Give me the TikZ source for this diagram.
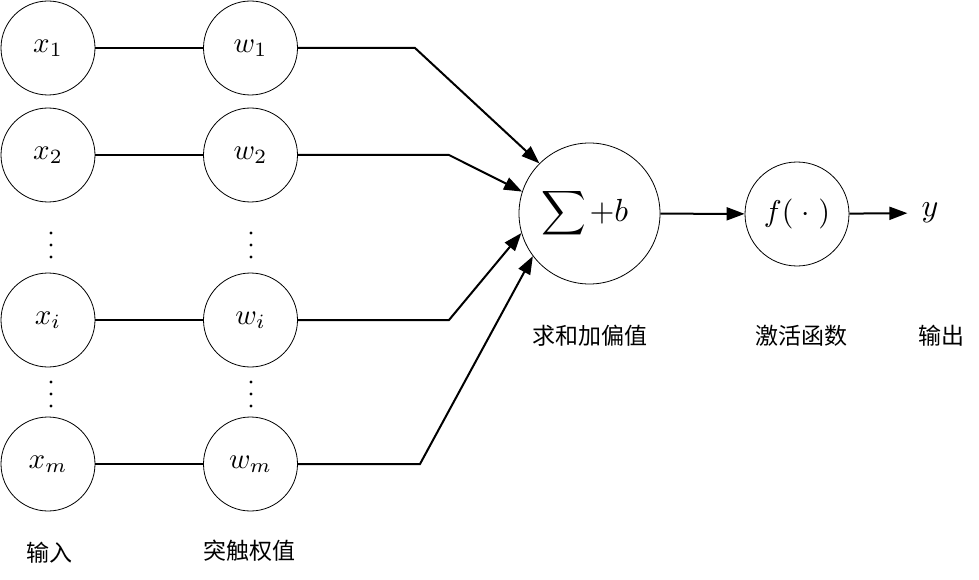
\documentclass[tikz,border=0pt]{standalone}
\usepackage{graphicx}
\usepackage{fontspec}
\newfontfamily\cjk{Noto Sans CJK SC}
\usetikzlibrary{arrows.meta}
\newcommand{\scmath}[2]{\scalebox{#1}{$#2$}}
\begin{document}
\begin{tikzpicture}[x=1pt,y=-1pt,
  neuron/.style={circle,draw,line width=0.8pt,inner sep=0pt,minimum size=94pt},
  link/.style={line width=2pt},
  arr/.style={line width=2pt,-{Triangle[length=18pt,width=13pt]}},
  lab/.style={font=\cjk\fontsize{23}{26}\selectfont,inner sep=0pt},
  dotc/.style={fill=black}]
\useasboundingbox (0,0) rectangle (979,580);
% input column
\node[neuron] (x1) at (48,48) {\scmath{2.9}{x_1}};
\node[neuron] (x2) at (48,155) {\scmath{2.9}{x_2}};
\node[neuron] (xi) at (48,320) {\scmath{2.9}{x_i}};
\node[neuron] (xm) at (48,464) {\scmath{2.9}{x_m}};
% weight column
\node[neuron] (w1) at (250.5,48) {\scmath{2.9}{w_1}};
\node[neuron] (w2) at (250.5,155) {\scmath{2.9}{w_2}};
\node[neuron] (wi) at (250.5,320) {\scmath{2.9}{w_i}};
\node[neuron] (wm) at (250.5,464) {\scmath{2.9}{w_m}};
% sum and activation
\node[neuron,minimum size=141pt] (sum) at (589.5,213.5)
  {\scmath{3.1}{\displaystyle\sum}\hspace{3pt}\scmath{3.2}{+b}\hspace*{9pt}};
\node[neuron,minimum size=104pt] (f) at (797,214) {\scmath{3.0}{f(\;\cdot\;)}};
\node[inner ysep=0pt,inner xsep=14pt] (y) at (930,213) {\scmath{3.2}{y}};
% bend points
\coordinate (b1) at (415,48);
\coordinate (b2) at (449,155);
\coordinate (bi) at (449,320);
\coordinate (bm) at (420,464);
% connectors
\draw[link] (x1) -- (w1);
\draw[link] (x2) -- (w2);
\draw[link] (xi) -- (wi);
\draw[link] (xm) -- (wm);
\draw[arr] (w1) -- (b1) -- (sum.135);
\draw[arr] (w2) -- (b2) -- (sum.162);
\draw[arr] (wi) -- (bi) -- (sum.196);
\draw[arr] (wm) -- (bm) -- (sum.217);
\draw[arr] (sum) -- (f);
\draw[arr] (f) -- (y);
% vertical dots
\foreach \yy in {233,245,257,382,394,406}{
  \fill[dotc] (51,\yy) circle (1.6pt);
  \fill[dotc] (251,\yy) circle (1.6pt);
}
% labels
\node[lab] (l1) at (49.5,553) {输入};
\node[lab] (l2) at (249,551) {突触权值};
\node[lab] (l3) at (590,336) {求和加偏值};
\node[lab] (l4) at (801,336) {激活函数};
\node[lab] (l5) at (941.5,336) {输出};
\end{tikzpicture}
\end{document}
